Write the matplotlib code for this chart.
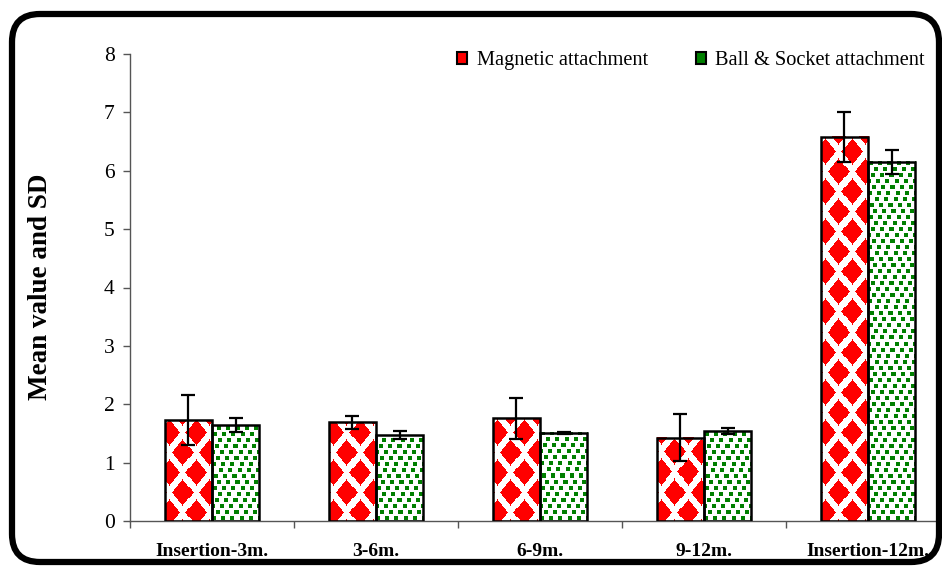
import numpy as np
import matplotlib
matplotlib.use('Agg')
import matplotlib.pyplot as plt
from matplotlib.patches import FancyBboxPatch, Patch

# data
periods = ['Insertion-3m.', '3-6m.', '6-9m.', '9-12m.', 'Insertion-12m.']
magnetic_mean = [1.73, 1.69, 1.76, 1.43, 6.58]
magnetic_sd = [0.42, 0.11, 0.35, 0.40, 0.43]
ball_mean = [1.64, 1.47, 1.51, 1.54, 6.15]
ball_sd = [0.12, 0.07, 0.02, 0.05, 0.20]
series_names = ['Magnetic attachment', 'Ball & Socket attachment']
y_ticks = [0, 1, 2, 3, 4, 5, 6, 7, 8]

plt.rcParams['font.family'] = ['Liberation Serif', 'DejaVu Serif']

RED = '#ff0000'
GREEN = '#008000'


# Excel-like fill textures (pixel patterns, not data)
def diamond_texture(nx, ny, px=26.0, py=40.0, a=10.5, b=13.0):
    y, x = np.mgrid[0:ny, 0:nx].astype(float)
    x = x + 9
    y = y + 12
    red = np.zeros((ny, nx), bool)
    for x0, y0 in [(0, 0), (px / 2, py / 2)]:
        dx = (x - x0 + px / 2) % px - px / 2
        dy = (y - y0 + py / 2) % py - py / 2
        red |= (np.abs(dx) / a + np.abs(dy) / b) <= 1
    img = np.ones((ny, nx, 3))
    img[red] = [1, 0, 0]
    return img


def dots_texture(nx, ny, step_x=9, step_y=6, size=4):
    img = np.ones((ny, nx, 3))
    offsets = [0, 4, 8, 3, 6, 1, 5, 2, 7]
    for r, y0 in enumerate(range(1, ny, step_y)):
        off = offsets[r % len(offsets)]
        for x0 in range(off - step_x, nx, step_x):
            xa, xb = max(x0, 0), min(x0 + size, nx)
            ya, yb = y0, min(y0 + size, ny)
            if xb > xa and yb > ya:
                img[ya:yb, xa:xb] = [0, 0.5, 0]
    return img


fig = plt.figure(figsize=(9.42, 5.67), dpi=100)
ax = fig.add_axes([130 / 942, 46 / 567, 820 / 942, 467 / 567])

x = np.arange(len(periods))
w = 0.287
ax.set_xlim(-0.5, len(periods) - 0.5)
ax.set_ylim(0, 8)

bbox = ax.get_window_extent()
px_x = bbox.width / len(periods)
px_y = bbox.height / 8

for xs, means, tex in [(x - w / 2, magnetic_mean, diamond_texture),
                       (x + w / 2, ball_mean, dots_texture)]:
    for xc, h in zip(xs, means):
        nx = int(round(w * px_x))
        ny = int(round(h * px_y))
        ax.imshow(tex(nx, ny), extent=(xc - w / 2, xc + w / 2, 0, h),
                  origin='lower', aspect='auto', interpolation='nearest', zorder=2)

ax.bar(x - w / 2, magnetic_mean, w, facecolor='none', edgecolor='black',
       linewidth=1.8, zorder=3)
ax.bar(x + w / 2, ball_mean, w, facecolor='none', edgecolor='black',
       linewidth=1.8, zorder=3)
ax.errorbar(x - w / 2, magnetic_mean, yerr=magnetic_sd, fmt='none', ecolor='black',
            elinewidth=1.6, capsize=5, capthick=1.6, zorder=4)
ax.errorbar(x + w / 2, ball_mean, yerr=ball_sd, fmt='none', ecolor='black',
            elinewidth=1.6, capsize=5, capthick=1.6, zorder=4)

ax.set_xlim(-0.5, len(periods) - 0.5)
ax.set_ylim(0, 8)

# axes styling
for s in ['top', 'right']:
    ax.spines[s].set_visible(False)
for s in ['left', 'bottom']:
    ax.spines[s].set_color('#555555')
    ax.spines[s].set_linewidth(1.0)

ax.set_yticks(y_ticks)
ax.tick_params(axis='y', direction='out', length=5, width=1, color='#555555',
               labelsize=15.5, pad=6)
ax.set_xticks(np.arange(len(periods) + 1) - 0.5)
ax.set_xticklabels([])
ax.set_xticks(x, minor=True)
ax.set_xticklabels(periods, minor=True, fontweight='bold', fontsize=14)
ax.tick_params(axis='x', which='major', direction='out', length=5, width=1,
               color='#555555')
ax.tick_params(axis='x', which='minor', length=0, pad=16)

fig.text(41 / 942, 1 - 287 / 567, 'Mean value and SD', rotation=90,
         ha='center', va='center', fontsize=19.5, fontweight='bold')

handles = [Patch(facecolor=RED, edgecolor='black', linewidth=1.5),
           Patch(facecolor=GREEN, edgecolor='black', linewidth=1.5)]
fig.legend(handles, series_names, loc='center', ncol=2, frameon=False,
           bbox_to_anchor=(691 / 942, 1 - 61 / 567), fontsize=14.7,
           handlelength=0.5, handleheight=0.5, handletextpad=0.45,
           columnspacing=2.35)

# rounded outer frame
frame = FancyBboxPatch((0.12, 0.05), 9.27, 5.48,
                       boxstyle='round,pad=0,rounding_size=0.28',
                       transform=fig.dpi_scale_trans, facecolor='none',
                       edgecolor='black', linewidth=4.5, zorder=10)
fig.patches.append(frame)

fig.savefig('out.png', dpi=100)
